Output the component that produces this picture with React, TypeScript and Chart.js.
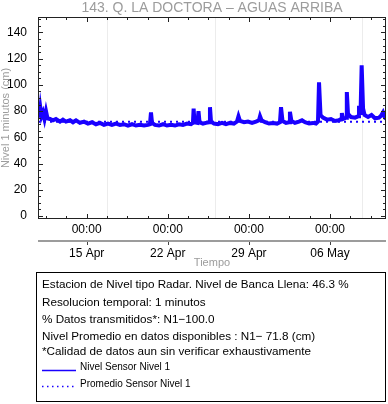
import React, { useEffect, useRef } from 'react';
import { Chart, registerables } from 'chart.js';

Chart.register(...registerables);

const FONT = '"Liberation Sans", Arial, Helvetica, sans-serif';

const TITLE = '143. Q. LA DOCTORA – AGUAS ARRIBA';
const Y_TITLE = 'Nivel 1 minutos (cm)';
const X_TITLE = 'Tiempo';

// x values are days since 15 Apr 00:00
const X_MIN = -4.2;
const X_MAX = 25.83;
const Y_MIN = -2.3;
const Y_MAX = 151.8;

const Y_TICKS = [0, 20, 40, 60, 80, 100, 120, 140];
const X_TICK_DAYS = [0, 7, 14, 21];
const X_TICK_TIMES = ['00:00', '00:00', '00:00', '00:00'];
const X_TICK_DATES = ['15 Apr', '22 Apr', '29 Apr', '06 May'];
const GRID_DAYS = [1.75, 11.07, 23.76];

const TIMES = [
  -4.2, -4.16, -4.07, -3.99, -3.9, -3.77, -3.64, -3.51, -3.38, -3.17,
  -2.91, -2.65, -2.3, -2.05, -1.79, -1.44, -1.18, -0.92, -0.58, -0.23,
  0.11, 0.46, 0.8, 1.15, 1.49, 1.84, 2.18, 2.53, 2.87, 3.22,
  3.56, 3.91, 4.25, 4.6, 4.95, 5.29, 5.46, 5.55, 5.64, 5.89,
  6.24, 6.59, 6.93, 7.28, 7.62, 7.97, 8.31, 8.66, 9.0, 9.17,
  9.23, 9.3, 9.56, 9.65, 9.74, 10.04, 10.3, 10.56, 10.64, 10.73,
  10.99, 11.33, 11.68, 12.02, 12.37, 12.71, 12.97, 13.1, 13.23, 13.58,
  13.92, 14.27, 14.61, 14.87, 14.96, 15.09, 15.39, 15.73, 16.08, 16.43,
  16.68, 16.77, 16.9, 17.2, 17.46, 17.54, 17.67, 17.97, 18.32, 18.58,
  18.84, 19.19, 19.53, 19.79, 19.96, 20.05, 20.18, 20.39, 20.74, 21.08,
  21.43, 21.77, 21.95, 22.02, 22.12, 22.38, 22.45, 22.55, 22.81, 23.16,
  23.42, 23.5, 23.63, 23.73, 23.85, 23.98, 24.28, 24.58, 24.88, 25.23,
  25.4, 25.57, 25.74, 25.83,
];

const LEVELS = [
  80, 86, 75, 82, 76, 79, 74, 80, 74.5, 74,
  73, 74, 72, 73.5, 72, 73, 71.5, 73, 71, 72,
  70.5, 71.5, 70, 71, 69.5, 70.5, 69.5, 70.5, 69.5, 70,
  69, 70, 69, 69.5, 69, 69.5, 70, 79, 71, 69.5,
  69, 70, 69, 69.5, 69, 70, 69.5, 70.5, 70, 71,
  82, 71.5, 71, 80, 71.5, 70.5, 71, 71.5, 83, 72,
  70.5, 70, 71, 70, 71, 70.5, 72, 76, 72.5, 71.5,
  72, 71, 72, 73, 76, 73, 71.5, 70.5, 71, 70.5,
  71.5, 83, 72.5, 71, 71.5, 79.5, 72.5, 71, 72, 73,
  71.5, 70.5, 71, 70.5, 72, 102, 77, 75, 73.5, 74,
  72.5, 73, 74, 78.5, 74, 75, 94.5, 78, 75.5, 75,
  76, 84, 77, 115, 82, 77, 75.5, 77, 74.5, 75,
  76.5, 79, 75, 74,
];

const MEAN_LEVEL = 71.8;

const INFO_LINES = [
  'Estacion de Nivel tipo Radar. Nivel de Banca Llena: 46.3 %',
  'Resolucion temporal: 1 minutos',
  '% Datos transmitidos*: N1\u2212100.0',
  'Nivel Promedio en datos disponibles : N1\u2212 71.8 (cm)',
  '*Calidad de datos aun sin verificar exhaustivamente',
];
const SERIES_LABELS = ['Nivel Sensor Nivel 1', 'Promedio Sensor Nivel 1'];

const BLUE = 'rgb(25,0,255)';
const GRAY = '#9c9c9c';

const decorPlugin = {
  id: 'decor',
  beforeDatasetsDraw(chart: any) {
    const { ctx, chartArea: a, scales } = chart;
    ctx.save();
    ctx.strokeStyle = '#ececec';
    ctx.lineWidth = 1;
    GRID_DAYS.forEach((d) => {
      const x = Math.round(scales.x.getPixelForValue(d)) + 0.5;
      ctx.beginPath();
      ctx.moveTo(x, a.top);
      ctx.lineTo(x, a.bottom);
      ctx.stroke();
    });
    ctx.restore();
  },
  afterDatasetsDraw(chart: any) {
    const { ctx, chartArea: a, scales } = chart;
    ctx.save();
    ctx.strokeStyle = '#222';
    ctx.lineWidth = 1;
    ctx.strokeRect(Math.round(a.left) + 0.5, Math.round(a.top) + 0.5, Math.round(a.right - a.left) - 1, Math.round(a.bottom - a.top) - 1);
    // x ticks
    const start = Math.ceil(X_MIN / 1.75) * 1.75;
    for (let d = start; d <= X_MAX; d += 1.75) {
      const major = Math.abs(d / 7 - Math.round(d / 7)) < 1e-6;
      const len = major ? 5 : 3;
      const x = Math.round(scales.x.getPixelForValue(d)) + 0.5;
      ctx.beginPath();
      ctx.moveTo(x, a.bottom);
      ctx.lineTo(x, a.bottom - len);
      ctx.moveTo(x, a.top);
      ctx.lineTo(x, a.top + len);
      ctx.stroke();
    }
    // y ticks
    for (let v = 0; v <= Y_MAX; v += 5) {
      const major = v % 20 === 0;
      const len = major ? 5 : 3;
      const y = Math.round(scales.y.getPixelForValue(v)) + 0.5;
      ctx.beginPath();
      ctx.moveTo(a.left, y);
      ctx.lineTo(a.left + len, y);
      ctx.moveTo(a.right, y);
      ctx.lineTo(a.right - len, y);
      ctx.stroke();
    }
    ctx.restore();
  },
  afterDraw(chart: any) {
    const { ctx, chartArea: a, scales } = chart;
    ctx.save();
    // title centred over the plot area
    ctx.fillStyle = GRAY;
    ctx.font = `14px ${FONT}`;
    ctx.textAlign = 'center';
    ctx.textBaseline = 'middle';
    ctx.fillText(TITLE, (a.left + a.right) / 2, 8.5);
    // secondary date axis line
    const yLine = a.bottom + 22;
    ctx.strokeStyle = GRAY;
    ctx.lineWidth = 2;
    ctx.beginPath();
    ctx.moveTo(a.left, yLine);
    ctx.lineTo(a.right, yLine);
    ctx.stroke();
    ctx.strokeStyle = '#444';
    ctx.lineWidth = 1;
    X_TICK_DAYS.forEach((d) => {
      const x = Math.round(scales.x.getPixelForValue(d)) + 0.5;
      ctx.beginPath();
      ctx.moveTo(x, yLine + 1);
      ctx.lineTo(x, yLine + 4);
      ctx.stroke();
    });
    // info / legend box
    const bx = 36.5, by = 272.5, bw = 349, bh = 129;
    ctx.strokeStyle = '#000';
    ctx.lineWidth = 1;
    ctx.strokeRect(bx, by, bw, bh);
    ctx.fillStyle = '#000';
    ctx.textBaseline = 'middle';
    ctx.textAlign = 'left';
    ctx.font = `11.7px ${FONT}`;
    const rows = [285, 302.5, 320, 337, 352];
    INFO_LINES.forEach((t, i) => {
      ctx.fillText(t, 42, rows[i]);
    });
    ctx.font = `10px ${FONT}`;
    // solid sample
    ctx.strokeStyle = BLUE;
    ctx.lineWidth = 1.5;
    ctx.beginPath();
    ctx.moveTo(42, 370.5);
    ctx.lineTo(76, 370.5);
    ctx.stroke();
    ctx.fillText(SERIES_LABELS[0], 80, 367.5);
    // dotted sample
    ctx.setLineDash([1.5, 3.5]);
    ctx.beginPath();
    ctx.moveTo(42, 386.5);
    ctx.lineTo(76, 386.5);
    ctx.stroke();
    ctx.setLineDash([]);
    ctx.fillText(SERIES_LABELS[1], 80, 384);
    ctx.restore();
  },
};

export default function App() {
  const ref = useRef<HTMLCanvasElement>(null);
  useEffect(() => {
    if (!ref.current) return;
    const chart = new Chart(ref.current, {
      type: 'line',
      data: {
        datasets: [
          {
            label: 'Promedio',
            data: [
              { x: X_MIN, y: MEAN_LEVEL },
              { x: X_MAX, y: MEAN_LEVEL },
            ],
            borderColor: BLUE,
            borderWidth: 2,
            borderDash: [2, 4],
            pointRadius: 0,
            order: 2,
          },
          {
            label: 'Nivel',
            data: TIMES.map((t, i) => ({ x: t, y: LEVELS[i] })),
            borderColor: BLUE,
            borderWidth: 4,
            pointRadius: 0,
            tension: 0,
            order: 1,
          },
        ],
      },
      options: {
        animation: false,
        responsive: false,
        devicePixelRatio: 1,
        layout: { padding: { left: 0, right: 2, top: 17, bottom: 133 } },
        plugins: {
          legend: { display: false },
          tooltip: { enabled: false },
          title: { display: false },
        },
        scales: {
          x: {
            type: 'linear',
            min: X_MIN,
            max: X_MAX,
            afterBuildTicks: (s: any) => {
              s.ticks = X_TICK_DAYS.map((v) => ({ value: v }));
            },
            afterFit: (s: any) => {
              s.height = 52;
            },
            grid: { display: false },
            border: { display: false },
            ticks: {
              autoSkip: false,
              maxRotation: 0,
              padding: -9,
              color: '#000',
              font: { family: FONT, size: 12, lineHeight: '24px' },
              callback: (_v: any, i: number) => [X_TICK_TIMES[i], X_TICK_DATES[i]],
            },
            title: {
              display: true,
              text: X_TITLE,
              color: GRAY,
              font: { family: FONT, size: 11, lineHeight: 1.2 },
              padding: { top: 0, bottom: 1 },
            },
          },
          y: {
            type: 'linear',
            min: Y_MIN,
            max: Y_MAX,
            afterBuildTicks: (s: any) => {
              s.ticks = Y_TICKS.map((v) => ({ value: v }));
            },
            afterFit: (s: any) => {
              s.width = 38;
            },
            grid: { display: false },
            border: { display: false },
            ticks: {
              padding: 3,
              color: '#000',
              font: { family: FONT, size: 12 },
              callback: (v: any) => String(v),
            },
            title: {
              display: true,
              text: Y_TITLE,
              color: GRAY,
              font: { family: FONT, size: 11, lineHeight: 1 },
              padding: 0,
            },
          },
        },
      },
      plugins: [decorPlugin],
    });
    return () => chart.destroy();
  }, []);
  return (
    <div style={{ position: 'fixed', left: 0, top: 0, width: 388, height: 404, background: '#fff' }}>
      <canvas ref={ref} width={388} height={404} style={{ display: 'block' }} />
    </div>
  );
}
